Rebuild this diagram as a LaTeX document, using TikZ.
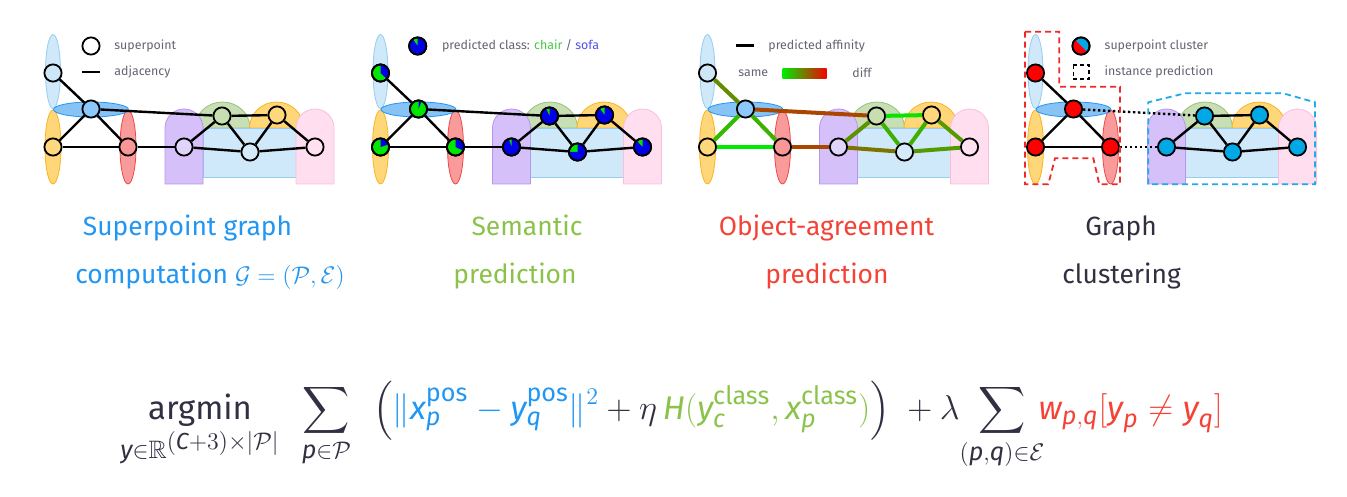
\documentclass[tikz,border=0pt]{standalone}
\usepackage{amsmath,amssymb}
\usepackage{fontspec}
\setmainfont{Fira Sans}
\DeclareMathSizes{16.4}{16.4}{12.6}{11.6}

% text colours
\definecolor{txtBlue}{RGB}{33,150,243}
\definecolor{txtGreen}{RGB}{139,195,74}
\definecolor{txtRed}{RGB}{244,67,54}
\definecolor{txtDark}{RGB}{48,48,66}
\definecolor{legendGray}{RGB}{100,100,115}
\definecolor{chairGreen}{RGB}{70,200,70}
\definecolor{sofaBlue}{RGB}{80,80,235}
% object parts
\definecolor{shpLightBlueF}{RGB}{207,232,250}
\definecolor{shpLightBlueD}{RGB}{150,205,240}
\definecolor{shpBlueF}{RGB}{135,195,245}
\definecolor{shpBlueD}{RGB}{33,150,243}
\definecolor{shpYellowF}{RGB}{255,214,120}
\definecolor{shpYellowD}{RGB}{250,180,30}
\definecolor{shpRedF}{RGB}{250,155,155}
\definecolor{shpRedD}{RGB}{240,70,70}
\definecolor{shpPurpleF}{RGB}{213,192,250}
\definecolor{shpPurpleD}{RGB}{180,150,235}
\definecolor{shpGreenF}{RGB}{200,222,180}
\definecolor{shpGreenD}{RGB}{150,195,120}
\definecolor{shpPinkF}{RGB}{255,222,240}
\definecolor{shpPinkD}{RGB}{248,190,220}
% superpoints
\definecolor{ndLightBlue}{RGB}{205,230,248}
\definecolor{ndBlue}{RGB}{140,200,250}
\definecolor{ndYellow}{RGB}{255,215,125}
\definecolor{ndRed}{RGB}{250,150,150}
\definecolor{ndPurple}{RGB}{225,212,250}
\definecolor{ndGreen}{RGB}{198,222,176}
\definecolor{ndPaleBlue}{RGB}{213,235,250}
\definecolor{ndPink}{RGB}{255,225,240}
\definecolor{pieGreen}{RGB}{0,230,0}
\definecolor{pieBlue}{RGB}{0,0,235}
\definecolor{affSame}{RGB}{0,235,0}
\definecolor{affDiff}{RGB}{245,0,0}
\definecolor{clsRed}{RGB}{255,0,0}
\definecolor{clsCyan}{RGB}{0,168,230}
\definecolor{clsRedLine}{RGB}{240,40,40}
\definecolor{clsCyanLine}{RGB}{30,170,235}

\newcommand{\fv}[1]{\textit{#1}}

% chair + sofa seen as segments
\newcommand{\spBackdrop}{%
  \draw[shpLightBlueD, fill=shpLightBlueF] (53,-71.5) ellipse [x radius=7.5, y radius=37];
  \draw[shpYellowD, fill=shpYellowF] (53,-147) ellipse [x radius=8, y radius=37];
  \draw[shpRedD, fill=shpRedF] (128,-147) ellipse [x radius=8, y radius=37];
  \draw[shpBlueD, fill=shpBlueF] (91,-109.5) ellipse [x radius=37.5, y radius=7.5];
  \draw[shpGreenD, fill=shpGreenF] (195,-128) arc [start angle=180, end angle=0, x radius=27.5, y radius=26] -- cycle;
  \draw[shpYellowD, fill=shpYellowF] (249.5,-128) arc [start angle=180, end angle=0, x radius=27, y radius=26] -- cycle;
  \draw[shpLightBlueD, fill=shpLightBlueF] (203,-128) rectangle (297,-177);
  \draw[shpPurpleD, fill=shpPurpleF] (165,-184) -- (165,-128) arc [start angle=180, end angle=0, radius=19] -- (203,-184) -- cycle;
  \draw[shpPinkD, fill=shpPinkF] (296,-184) -- (296,-128) arc [start angle=180, end angle=0, radius=19] -- (334,-184) -- cycle;
}

% pie node: name, position, sofa share
\newcommand{\semPie}[3]{%
  \node[spNode, fill=pieGreen] (#1) at (#2) {};
  \fill[pieBlue] (#1.center) -- ++(90:4.3pt) arc [start angle=90, delta angle=-#3*360, radius=4.3pt] -- cycle;
  \draw[line width=0.9pt] (#1.center) circle [radius=4.3pt];
}

\begin{document}
\begin{tikzpicture}[x=0.5pt, y=0.5pt,
    spNode/.style={circle, draw=black, line width=0.9pt, minimum size=8.6pt, inner sep=0pt},
    spEdge/.style={line width=1.2pt},
    affEdge/.style={line width=2pt},
    clsCut/.style={line width=1.2pt, dash pattern=on 1.2pt off 1.3pt},
    legendText/.style={font=\fontsize{6.2}{7}\selectfont, text=legendGray, inner sep=0pt, anchor=west},
    titleText/.style={font=\fontsize{13.2}{16}\selectfont, inner sep=0pt, anchor=base}]

    \useasboundingbox (0,0) rectangle (1347,-497);

    % Superpoint graph
    \begin{scope}
        \spBackdrop
        \node[spNode, fill=ndLightBlue] (spA) at (53,-73) {};
        \node[spNode, fill=ndBlue] (spB) at (91,-109) {};
        \node[spNode, fill=ndYellow] (spC) at (53,-147) {};
        \node[spNode, fill=ndRed] (spD) at (128,-147) {};
        \node[spNode, fill=ndPurple] (spE) at (184,-147) {};
        \node[spNode, fill=ndGreen] (spF) at (222,-116) {};
        \node[spNode, fill=ndYellow] (spG) at (277,-115) {};
        \node[spNode, fill=ndPaleBlue] (spH) at (250,-152) {};
        \node[spNode, fill=ndPink] (spI) at (315,-147) {};
        \foreach \u/\v in {A/B, B/C, B/D, C/D, B/F, D/E, E/F, E/H, F/G, F/H, G/H, G/I, H/I}
            \draw[spEdge] (sp\u) -- (sp\v);
    \end{scope}

    % Semantic prediction
    \begin{scope}[shift={(327.5,0)}]
        \spBackdrop
        \semPie{semA}{53,-73}{0.37}
        \semPie{semB}{91,-109}{0.06}
        \semPie{semC}{53,-147}{0.2}
        \semPie{semD}{128,-147}{0.32}
        \semPie{semE}{184,-147}{0.95}
        \semPie{semF}{222,-116}{0.93}
        \semPie{semG}{277,-115}{0.9}
        \semPie{semH}{250,-152}{0.75}
        \semPie{semI}{315,-147}{0.88}
        \foreach \u/\v in {A/B, B/C, B/D, C/D, B/F, D/E, E/F, E/H, F/G, F/H, G/H, G/I, H/I}
            \draw[spEdge] (sem\u) -- (sem\v);
    \end{scope}

    % Object-agreement prediction
    \begin{scope}[shift={(654.5,0)}]
        \spBackdrop
        \node[spNode, fill=ndLightBlue] (affA) at (53,-73) {};
        \node[spNode, fill=ndBlue] (affB) at (91,-109) {};
        \node[spNode, fill=ndYellow] (affC) at (53,-147) {};
        \node[spNode, fill=ndRed] (affD) at (128,-147) {};
        \node[spNode, fill=ndPurple] (affE) at (184,-147) {};
        \node[spNode, fill=ndGreen] (affF) at (222,-116) {};
        \node[spNode, fill=ndYellow] (affG) at (277,-115) {};
        \node[spNode, fill=ndPaleBlue] (affH) at (250,-152) {};
        \node[spNode, fill=ndPink] (affI) at (315,-147) {};
        \foreach \u/\v/\s in {A/B/60, B/C/80, B/D/75, C/D/100, B/F/30, D/E/30, E/F/62,
                              E/H/50, F/G/97, F/H/75, G/H/75, G/I/66, H/I/66}
            \draw[affEdge, draw=affSame!\s!affDiff] (aff\u) -- (aff\v);
    \end{scope}

    % Graph clustering
    \begin{scope}[shift={(982.5,0)}]
        \spBackdrop
        \node[spNode, fill=clsRed] (clsA) at (53,-73) {};
        \node[spNode, fill=clsRed] (clsB) at (91,-109) {};
        \node[spNode, fill=clsRed] (clsC) at (53,-147) {};
        \node[spNode, fill=clsRed] (clsD) at (128,-147) {};
        \node[spNode, fill=clsCyan] (clsE) at (184,-147) {};
        \node[spNode, fill=clsCyan] (clsF) at (222,-116) {};
        \node[spNode, fill=clsCyan] (clsG) at (277,-115) {};
        \node[spNode, fill=clsCyan] (clsH) at (250,-152) {};
        \node[spNode, fill=clsCyan] (clsI) at (315,-147) {};
        \foreach \u/\v in {A/B, B/C, B/D, C/D, E/F, E/H, F/G, F/H, G/H, G/I, H/I}
            \draw[spEdge] (cls\u) -- (cls\v);
        \draw[clsCut] (clsB) -- (clsF);
        \draw[clsCut] (clsD) -- (clsE);
        % instances
        \draw[clsRedLine, line width=0.9pt, dash pattern=on 3pt off 2pt]
            (42.5,-31.7) -- (76.8,-31.7) -- (76.8,-86.7) -- (137.5,-86.7) -- (137.5,-184.3)
            -- (116.8,-184.3) -- (110.8,-158.3) -- (72.5,-158.3) -- (65.8,-184.3) -- (42.5,-184.3) -- cycle;
        \draw[clsCyanLine, line width=0.9pt, dash pattern=on 3pt off 2pt]
            (165.8,-184.3) -- (165.8,-102.3) -- (202.5,-93.3) -- (300.5,-93.3) -- (332.5,-102.3)
            -- (332.5,-184.3) -- cycle;
    \end{scope}

    % Legends
    \node[spNode, fill=white] (spLegNode) at (91,-46) {};
    \node[legendText] (spLegNodeTxt) at (114,-46) {superpoint};
    \coordinate (spLegL) at (82,-72);
    \coordinate (spLegR) at (100,-72);
    \draw[spEdge] (spLegL) -- (spLegR);
    \node[legendText] (spLegEdgeTxt) at (114,-72) {adjacency};

    \semPie{semLeg}{417.7,-46}{0.9}
    \node[legendText] (semLegTxt) at (441.7,-46) {predicted class: \textcolor{chairGreen}{chair} / \textcolor{sofaBlue}{sofa}};

    \coordinate (affLegL) at (736,-46);
    \coordinate (affLegR) at (754,-46);
    \draw[line width=1.5pt] (affLegL) -- (affLegR);
    \node[legendText] (affLegTxt) at (768,-46) {predicted affinity};
    \node[legendText] (affLegSame) at (738,-73) {same};
    \shade[left color=affSame, right color=affDiff] (782.7,-68.3) rectangle (826.7,-79);
    \node[legendText] (affLegDiff) at (852,-73) {diff};

    \node[spNode, fill=clsCyan] (clsLeg) at (1081,-46) {};
    \fill[clsRed] (clsLeg.center) -- ++(135:4.3pt) arc [start angle=135, end angle=315, radius=4.3pt] -- cycle;
    \draw[line width=0.9pt] (clsLeg.center) circle [radius=4.3pt];
    \node[legendText] (clsLegTxt) at (1104.3,-46) {superpoint cluster};
    \draw[line width=0.8pt, dash pattern=on 2pt off 1.5pt] (1073.3,-65) rectangle (1089,-79);
    \node[legendText] (clsLegInstTxt) at (1104.3,-72) {instance prediction};

    % Titles
    \node[titleText, text=txtBlue] (spTitleA) at (187.5,-235) {Superpoint graph};
    \node[titleText, text=txtBlue] (spTitleB) at (210,-283) {computation $\mathcal{G}=(\mathcal{P},\mathcal{E})$};
    \node[titleText, text=txtGreen] (semTitleA) at (527,-235) {Semantic};
    \node[titleText, text=txtGreen] (semTitleB) at (515,-283) {prediction};
    \node[titleText, text=txtRed] (affTitleA) at (826.5,-235) {Object-agreement};
    \node[titleText, text=txtRed] (affTitleB) at (827,-283) {prediction};
    \node[titleText, text=txtDark] (clsTitleA) at (1121,-235) {Graph};
    \node[titleText, text=txtDark] (clsTitleB) at (1121.5,-283) {clustering};

    % Objective
    \node[font=\fontsize{16.4}{19}\selectfont, text=txtDark, inner sep=0pt, anchor=base west] (eqLoss) at (120,-419) {$\displaystyle
        \mathop{\text{argmin}}\limits_{\fv{y}\in\mathbb{R}^{(\fv{C}+3)\times|\mathcal{P}|}}
        \enspace\sum_{\fv{p}\in\mathcal{P}}
        \enspace\Big(
        {\color{txtBlue}\|\fv{x}_{\fv{p}}^{\text{pos}}-\fv{y}_{\fv{q}}^{\text{pos}}\|^2}
        +\eta\,
        {\color{txtGreen}\fv{H}(\fv{y}_{\fv{c}}^{\text{class}},\fv{x}_{\fv{p}}^{\text{class}})}
        \Big)
        \;+\lambda\!\sum_{(\fv{p},\fv{q})\in\mathcal{E}}\!\!
        {\color{txtRed}\fv{w}_{\fv{p},\fv{q}}[\fv{y}_{\fv{p}}\neq\fv{y}_{\fv{q}}]}$};
\end{tikzpicture}
\end{document}
